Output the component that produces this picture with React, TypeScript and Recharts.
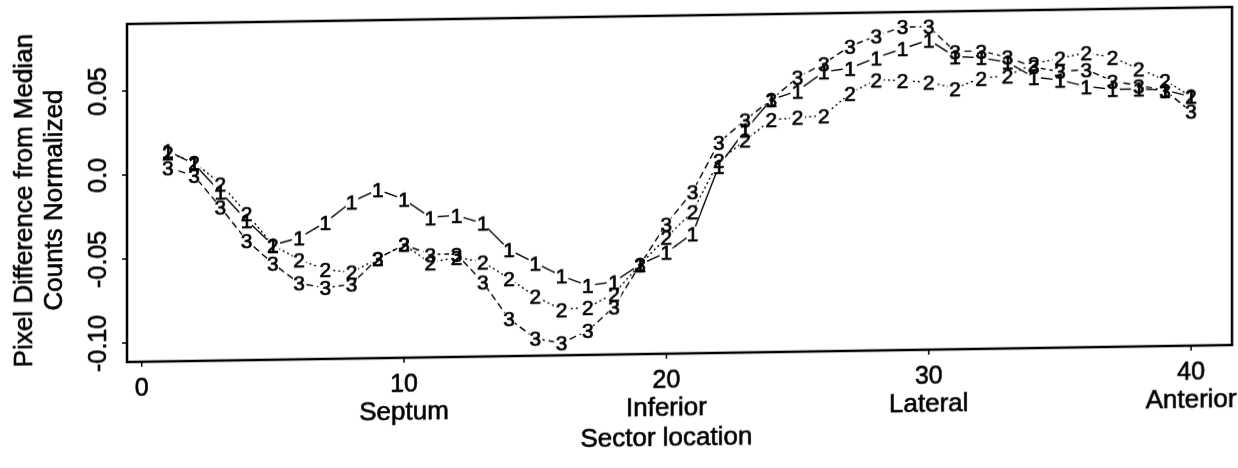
import React from 'react';
import { LineChart, Line, XAxis, YAxis, ReferenceArea } from 'recharts';

const sectors = [1, 2, 3, 4, 5, 6, 7, 8, 9, 10, 11, 12, 13, 14, 15, 16, 17, 18, 19, 20,
  21, 22, 23, 24, 25, 26, 27, 28, 29, 30, 31, 32, 33, 34, 35, 36, 37, 38, 39, 40];

const series1 = [0.014, 0.006, -0.011, -0.028, -0.043, -0.039, -0.030, -0.018, -0.011, -0.017,
  -0.028, -0.027, -0.032, -0.048, -0.056, -0.064, -0.070, -0.068, -0.058, -0.051,
  -0.040, 0.000, 0.021, 0.039, 0.044, 0.055, 0.057, 0.063, 0.068, 0.073,
  0.063, 0.062, 0.059, 0.050, 0.048, 0.044, 0.042, 0.042, 0.041, 0.037];

const series2 = [0.013, 0.007, -0.006, -0.024, -0.043, -0.052, -0.058, -0.060, -0.052, -0.044,
  -0.055, -0.052, -0.055, -0.065, -0.076, -0.084, -0.083, -0.075, -0.058, -0.042,
  -0.027, 0.003, 0.015, 0.027, 0.028, 0.029, 0.042, 0.050, 0.049, 0.048,
  0.044, 0.050, 0.051, 0.058, 0.061, 0.064, 0.061, 0.054, 0.047, 0.037];

const series3 = [0.004, -0.001, -0.020, -0.040, -0.054, -0.066, -0.069, -0.067, -0.052, -0.044,
  -0.050, -0.050, -0.067, -0.089, -0.101, -0.104, -0.097, -0.083, -0.058, -0.034,
  -0.015, 0.014, 0.027, 0.039, 0.052, 0.060, 0.070, 0.076, 0.081, 0.081,
  0.066, 0.066, 0.062, 0.056, 0.053, 0.054, 0.047, 0.044, 0.041, 0.028];

const seriesKeys = ['s1', 's2', 's3'];
const seriesMarks = ['1', '2', '3'];
const seriesDash = [undefined, '2 3', '7 4'];

const xTicks = [0, 10, 20, 30, 40];
const xTickNames = ['', 'Septum', 'Inferior', 'Lateral', 'Anterior'];
const yTicks = [-0.1, -0.05, 0, 0.05];
const yTickLabels = ['-0.10', '-0.05', '0.0', '0.05'];
const xTitle = 'Sector location';
const xTitleAt = 20;
const yTitleLines = ['Pixel Difference from Median', 'Counts Normalized'];

const X_DOMAIN: [number, number] = [-0.56, 41.56];
const Y_DOMAIN: [number, number] = [-0.1113, 0.0899];

const data = sectors.map((x, i) => ({ x, s1: series1[i], s2: series2[i], s3: series3[i] }));

const FONT = '"Liberation Sans", Arial, Helvetica, sans-serif';

const MaskDot = (props: any) => {
  const { cx, cy, index, dataKey } = props;
  if (cx == null || cy == null) return <g key={`m-${dataKey}-${index}`} />;
  return <circle key={`m-${dataKey}-${index}`} cx={cx} cy={cy} r={7.5} fill="#fff" stroke="none" />;
};

const makeDigitDot = (mark: string) => (props: any) => {
  const { cx, cy, index } = props;
  if (cx == null || cy == null) return <g key={`d-${mark}-${index}`} />;
  return (
    <text key={`d-${mark}-${index}`} x={cx} y={cy} textAnchor="middle" dominantBaseline="central"
      fontSize={21} fontFamily={FONT} fill="#000" stroke="#000" strokeWidth={0.7}>{mark}</text>
  );
};

const XTick = (props: any) => {
  const { x, y, payload } = props;
  const i = xTicks.indexOf(payload.value);
  const name = i >= 0 ? xTickNames[i] : '';
  return (
    <g>
      <text x={x} y={y + 20} textAnchor="middle" dominantBaseline="central" fontSize={25}
        fontFamily={FONT} fill="#000" stroke="#000" strokeWidth={0.6}>{payload.value}</text>
      {name ? (
        <text x={x} y={y + 48} textAnchor="middle" dominantBaseline="central" fontSize={26}
          fontFamily={FONT} fill="#000" stroke="#000" strokeWidth={0.6}>{name}</text>
      ) : null}
    </g>
  );
};

const YTick = (props: any) => {
  const { y, payload } = props;
  const i = yTicks.indexOf(payload.value);
  const label = i >= 0 ? yTickLabels[i] : String(payload.value);
  const cx = 97;
  return (
    <text x={cx} y={y} transform={`rotate(-90, ${cx}, ${y})`} textAnchor="middle"
      dominantBaseline="central" fontSize={25} fontFamily={FONT} fill="#000" stroke="#000"
      strokeWidth={0.6}>{label}</text>
  );
};

const YTitle = (props: any) => {
  const vb = props.viewBox || {};
  const cy = (vb.y ?? 24) + (vb.height ?? 338) / 2 + 6;
  const xs = [23, 53];
  return (
    <g>
      {yTitleLines.map((t, k) => (
        <text key={k} x={xs[k]} y={cy} transform={`rotate(-90, ${xs[k]}, ${cy})`} textAnchor="middle"
          dominantBaseline="central" fontSize={26} fontFamily={FONT} fill="#000" stroke="#000"
          strokeWidth={0.6}>{t}</text>
      ))}
    </g>
  );
};

const XTitle = (props: any) => {
  const vb = props.viewBox || {};
  const x0 = vb.x ?? 127;
  const w = vb.width ?? 1105;
  const cx = x0 + (w * (xTitleAt - X_DOMAIN[0])) / (X_DOMAIN[1] - X_DOMAIN[0]);
  const cy = (vb.y ?? 362) + 83;
  return (
    <text x={cx} y={cy} textAnchor="middle" dominantBaseline="central" fontSize={26}
      fontFamily={FONT} fill="#000" stroke="#000" strokeWidth={0.6}>{xTitle}</text>
  );
};

export default function App() {
  return (
    <div style={{ position: 'fixed', left: 0, top: 0, width: 1238, height: 468, background: '#fff',
      transform: 'skewY(-0.88deg)', transformOrigin: '127px 0px' }}>
      <LineChart width={1238} height={468} data={data}
        margin={{ top: 24, right: 6, bottom: 0, left: 0 }}>
        <XAxis dataKey="x" type="number" domain={X_DOMAIN} ticks={xTicks} allowDataOverflow
          axisLine={false} tickLine={{ stroke: '#000', strokeWidth: 1.5 }} tickSize={5} tickMargin={0}
          height={106} tick={<XTick />} label={{ content: <XTitle /> }} />
        <YAxis type="number" domain={Y_DOMAIN} ticks={yTicks} allowDataOverflow
          axisLine={false} tickLine={{ stroke: '#000', strokeWidth: 1.5 }} tickSize={5} tickMargin={0}
          width={127} tick={<YTick />} label={{ content: <YTitle /> }} />
        <ReferenceArea x1={X_DOMAIN[0]} x2={X_DOMAIN[1]} y1={Y_DOMAIN[0]} y2={Y_DOMAIN[1]}
          fill="none" fillOpacity={0} stroke="#000" strokeWidth={2.5} ifOverflow="visible" />
        {seriesKeys.map((k, i) => (
          <Line key={`line-${k}`} dataKey={k} type="linear" stroke="#000" strokeWidth={1.4}
            strokeDasharray={seriesDash[i]} dot={false} activeDot={false} isAnimationActive={false} />
        ))}
        {seriesKeys.map((k) => (
          <Line key={`mask-${k}`} dataKey={k} type="linear" stroke="none" dot={<MaskDot />}
            activeDot={false} isAnimationActive={false} />
        ))}
        {seriesKeys.map((k, i) => (
          <Line key={`mark-${k}`} dataKey={k} type="linear" stroke="none" dot={makeDigitDot(seriesMarks[i])}
            activeDot={false} isAnimationActive={false} />
        ))}
      </LineChart>
    </div>
  );
}
